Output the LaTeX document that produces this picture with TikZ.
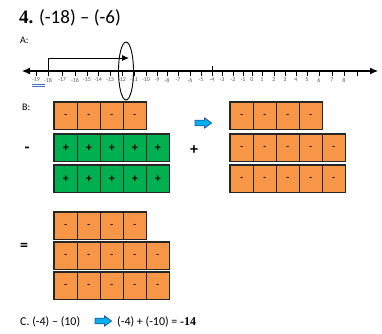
\documentclass[tikz,border=0pt]{standalone}
\usepackage{fontspec}
\setmainfont{Carlito}
\newfontfamily\serifbold{Liberation Serif}
\usetikzlibrary{arrows.meta}
\definecolor{orng}{HTML}{F79646}
\definecolor{grn}{HTML}{00B050}
\definecolor{arrowblue}{HTML}{00B0F0}
\definecolor{arrowedge}{HTML}{1F5C99}
\definecolor{spellblue}{HTML}{4472C4}
\tikzset{
  cell/.style={draw=black!85, line width=0.6pt, minimum width=23pt, minimum height=27pt,
    inner sep=0pt, anchor=north west, font=\fontsize{9}{9}\selectfont\bfseries},
  pluscell/.style={font=\fontsize{12}{12}\selectfont\bfseries},
  rowframe/.style={draw=black!85, line width=1.3pt},
  ticklabel/.style={font=\fontsize{6}{6}\selectfont, text=black!65, inner sep=0pt},
  blockarrow/.style={fill=arrowblue, draw=arrowedge, line width=0.8pt, line join=round},
  lbl/.style={inner sep=0pt, anchor=west},
  bigop/.style={inner sep=0pt, font=\fontsize{16}{16}\selectfont\bfseries}
}
\newcommand{\cellrow}[7]{%
  \foreach \i in {1,...,#4} {
    \node[cell, fill=#5, #7] (#1\i) at ({#2+(\i-1)*23},#3) {#6};
  }
  \draw[rowframe] (#11.north west) rectangle (#1#4.south east);
}
\newcommand{\bluearrow}[1]{%
  \filldraw[blockarrow, shift={(#1)}] (-8,-2.8) -- (1.5,-2.8) -- (1.5,-5.2) -- (8.5,0)
     -- (1.5,5.2) -- (1.5,2.8) -- (-8,2.8) -- cycle;
}
\begin{document}
\begin{tikzpicture}[x=1pt,y=-1pt]
\useasboundingbox (0,0) rectangle (382,333);

% title
\node[lbl] (title) at (19,18) {\fontsize{19}{19}\selectfont{\serifbold\bfseries 4.} (-18) – (-6)};
\node[lbl] (labA) at (20,40) {\fontsize{10}{10}\selectfont A:};

% number line
\coordinate (nlL) at (22,71);
\coordinate (nlR) at (378,71);
\draw[line width=1.1pt, {Latex[length=8pt,width=7pt]}-{Latex[length=8pt,width=7pt]}] (nlL) -- (nlR);
\foreach \v/\x in {-19/36,-18/48,-17/62,-16/75,-15/87,-14/98,-13/110,-12/122,-11/134,-10/146,
  -9/157,-8/167,-7/178,-6/190,-5/201,-4/212,-3/222,-2/233,-1/243,0/252,1/262,2/274,3/285,
  4/296,5/307,6/319,7/332,8/344} {
  \draw[line width=0.6pt] (\x,71) -- (\x,76);
  \node[ticklabel] (t\v) at (\x,80) {\v};
}
\draw[line width=0.6pt] (357,71) -- (357,76);
\draw[line width=0.6pt] (212,66) -- (212,71);
% spell-check underline
\draw[spellblue, line width=0.6pt] (32,84) -- (45,84) (32,86) -- (45,86);

% jump arrow
\coordinate (jS) at (48,71);
\coordinate (jC) at (48,58);
\coordinate (jE) at (129,58);
\draw[line width=0.9pt, -{Latex[length=7pt,width=6pt]}] (jS) -- (jC) -- (jE);
\draw[line width=0.9pt] (126,71) ellipse [x radius=7.5, y radius=29];

% B
\node[lbl] (labB) at (22,107) {\fontsize{10}{10}\selectfont B:};
\node[bigop] (minusop) at (27,150) {-};
\cellrow{a}{54}{102}{4}{orng}{-}{}
\cellrow{b}{54}{134}{5}{grn}{+}{pluscell}
\cellrow{c}{54}{165}{5}{grn}{+}{pluscell}

\coordinate (arr1) at (203,123);
\bluearrow{arr1}
\node[bigop] (plusop) at (194,150) {+};

\cellrow{d}{230}{102}{4}{orng}{-}{}
\cellrow{e}{230}{134}{5}{orng}{-}{}
\cellrow{f}{230}{165}{5}{orng}{-}{}

% result
\node[bigop] (eqop) at (24,247) {=};
\cellrow{g}{54}{212}{4}{orng}{-}{}
\cellrow{h}{54}{242}{5}{orng}{-}{}
\cellrow{k}{54}{272}{5}{orng}{-}{}

% C
\node[lbl] (cleft) at (20,322) {\fontsize{12}{12}\selectfont C. (-4) – (10)};
\coordinate (arr2) at (103,321);
\bluearrow{arr2}
\node[lbl] (cright) at (117,322) {\fontsize{12}{12}\selectfont (-4) + (-10) = {\serifbold\bfseries -14}};
\end{tikzpicture}
\end{document}
